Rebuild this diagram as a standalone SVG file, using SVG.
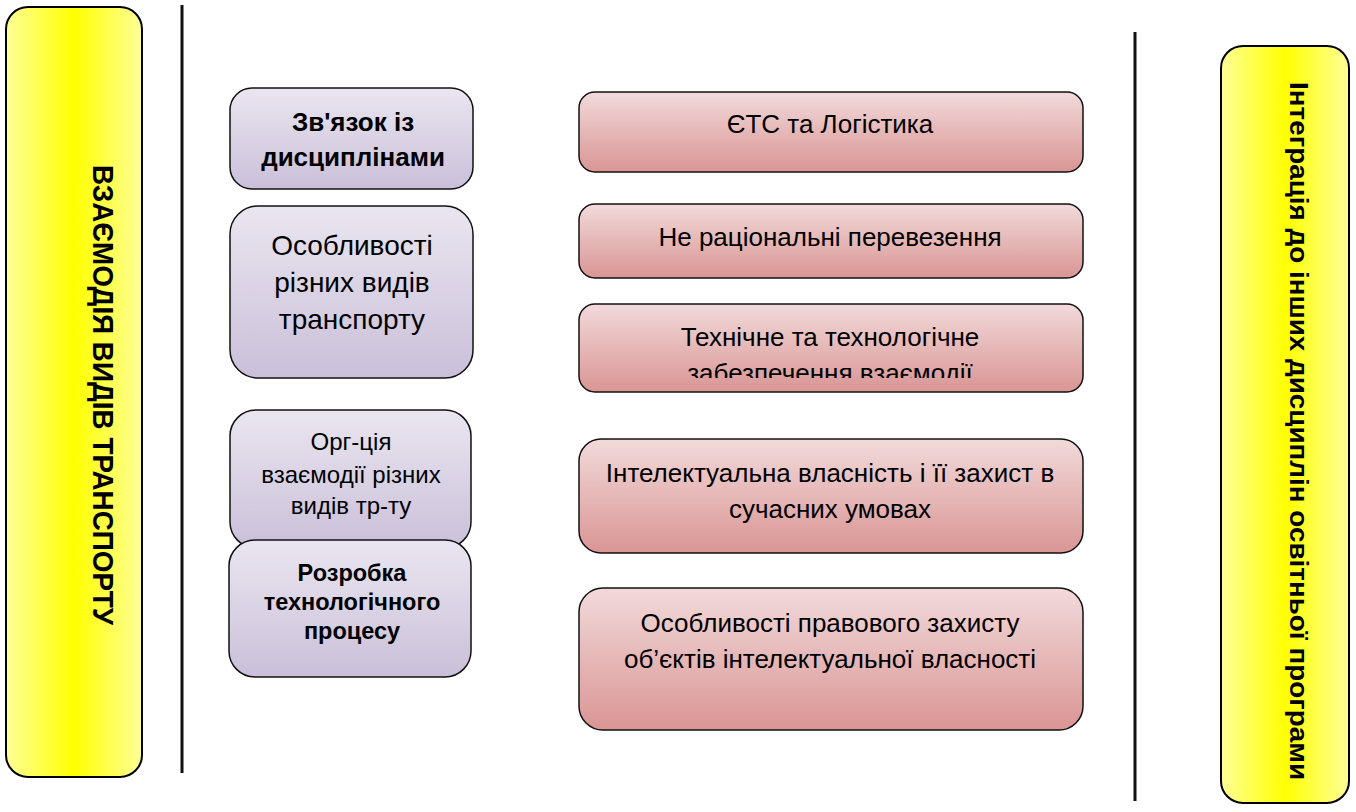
<svg xmlns="http://www.w3.org/2000/svg" width="1356" height="812" viewBox="0 0 1356 812">
<defs>
<linearGradient id="gYellow" x1="0" y1="0" x2="1" y2="0">
<stop offset="0" stop-color="#FFFF99"/>
<stop offset="0.5" stop-color="#FFFF00"/>
<stop offset="1" stop-color="#FFFF99"/>
</linearGradient>
<linearGradient id="gPurple" x1="0" y1="0" x2="0" y2="1">
<stop offset="0" stop-color="#EAE6F0"/>
<stop offset="1" stop-color="#CABFD9"/>
</linearGradient>
<linearGradient id="gPink" x1="0" y1="0" x2="0" y2="1">
<stop offset="0" stop-color="#F2DADA"/>
<stop offset="1" stop-color="#D99594"/>
</linearGradient>
<clipPath id="clipC"><rect x="579" y="304" width="504" height="74"/></clipPath>
</defs>
<style>
.yel{fill:url(#gYellow);stroke:#000;stroke-width:2}
.pur{fill:url(#gPurple);stroke:#111;stroke-width:1.5}
.pnk{fill:url(#gPink);stroke:#111;stroke-width:1.5}
.t{font-family:"Liberation Sans",Arial,sans-serif;fill:#000;text-anchor:middle}
.b{font-weight:bold}
.vl{stroke:#111;stroke-width:3}
</style>
<rect width="1356" height="812" fill="#fff"/>
<g id="connectors">
<line class="vl" x1="182" y1="5" x2="182" y2="773"/>
<line class="vl" x1="1135" y1="32" x2="1135" y2="801"/>
</g>
<g id="left-title">
<rect class="yel" x="6" y="7" width="136" height="770" rx="22"/>
<text class="t b" font-size="29" transform="translate(93 395) rotate(90)" textLength="460" lengthAdjust="spacingAndGlyphs">ВЗАЄМОДІЯ ВИДІВ ТРАНСПОРТУ</text>
</g>
<g id="right-title">
<rect class="yel" x="1221" y="46" width="128" height="757" rx="22"/>
<text class="t b" font-size="25" transform="translate(1290 431) rotate(90)" textLength="698" lengthAdjust="spacingAndGlyphs">Інтеграція до інших дисциплін освітньої програми</text>
</g>
<g id="p1">
<rect class="pur" x="230" y="88" width="243" height="101" rx="22"/>
<text class="t b" font-size="26"><tspan x="353" y="131">Зв'язок із</tspan><tspan x="353" y="166">дисциплінами</tspan></text>
</g>
<g id="p2">
<rect class="pur" x="230" y="206" width="243" height="172" rx="28"/>
<text class="t" font-size="28"><tspan x="352" y="255">Особливості</tspan><tspan x="352" y="292">різних видів</tspan><tspan x="352" y="329">транспорту</tspan></text>
</g>
<g id="p3">
<rect class="pur" x="230" y="410" width="241" height="138" rx="26"/>
<text class="t" font-size="24"><tspan x="351" y="450">Орг-ція</tspan><tspan x="351" y="483">взаємодії різних</tspan><tspan x="351" y="514">видів тр-ту</tspan></text>
</g>
<g id="p4">
<rect class="pur" x="229" y="540" width="242" height="137" rx="26"/>
<text class="t b" font-size="23.5"><tspan x="352" y="581">Розробка</tspan><tspan x="352" y="610">технологічного</tspan><tspan x="352" y="639">процесу</tspan></text>
</g>
<g id="r1">
<rect class="pnk" x="579" y="92" width="504" height="80" rx="16"/>
<text class="t" font-size="26" x="830" y="133">ЄТС та Логістика</text>
</g>
<g id="r2">
<rect class="pnk" x="579" y="204" width="504" height="74" rx="16"/>
<text class="t" font-size="26" x="830" y="246">Не раціональні перевезення</text>
</g>
<g id="r3">
<rect class="pnk" x="579" y="304" width="504" height="88" rx="16"/>
<text class="t" font-size="26" clip-path="url(#clipC)"><tspan x="830" y="346">Технічне та технологічне</tspan><tspan x="830" y="382">забезпечення взаємодії</tspan></text>
</g>
<g id="r4">
<rect class="pnk" x="579" y="439" width="504" height="114" rx="22"/>
<text class="t" font-size="26"><tspan x="830" y="482">Інтелектуальна власність і її захист в</tspan><tspan x="830" y="518">сучасних умовах</tspan></text>
</g>
<g id="r5">
<rect class="pnk" x="579" y="588" width="504" height="142" rx="24"/>
<text class="t" font-size="26"><tspan x="830" y="632">Особливості правового захисту</tspan><tspan x="830" y="668">об’єктів інтелектуальної власності</tspan></text>
</g>
</svg>
